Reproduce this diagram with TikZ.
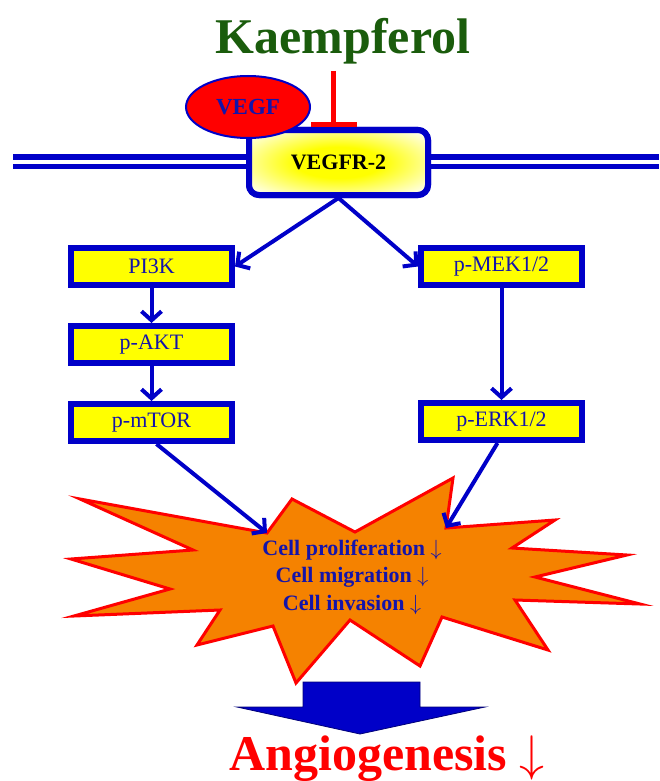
\RequirePackage{fix-cm}
\documentclass[tikz,border=0pt]{standalone}
\usepackage{amsmath}
\usepackage{fontspec}
\setmainfont{Liberation Serif}
\usetikzlibrary{%
	calc,%
	arrows.meta,%
	shapes.geometric,%
	positioning,%
}
\definecolor{cblue}{RGB}{0, 0, 200}
\definecolor{cbluedark}{RGB}{0, 0, 120}
\definecolor{ctext}{RGB}{20, 20, 170}
\definecolor{cred}{RGB}{255, 0, 0}
\definecolor{corange}{RGB}{245, 130, 0}
\definecolor{cgreen}{RGB}{26, 92, 12}
\definecolor{cyellow}{RGB}{255, 255, 0}
\pgfdeclareradialshading{receptorglow}{\pgfpoint{0bp}{0bp}}{%
	color(0bp)=(cyellow); color(12bp)=(cyellow); color(34bp)=(white); color(50bp)=(white)}
\newcommand{\decrease}{ $\downarrow$}
\tikzset{
	>={Straight Barb[length=9pt, width=20pt]},%
	nodes={align=center},%
	kinase/.style={%
			draw=cblue,%
			fill=cyellow,%
			rectangle,%
			line width=6pt,%
			minimum width=161pt,%
			minimum height=37pt,%
			text=ctext,%
			font={\fontsize{22}{26}\selectfont}},%
	receptor/.style={%
			draw=cblue,%
			rectangle,%
			rounded corners=10pt,%
			line width=6pt,%
			minimum width=179pt,%
			minimum height=65pt,%
			shading=receptorglow,%
			font={\fontsize{22}{26}\selectfont\bfseries}},%
	ligand/.style={%
			draw=cblue,%
			fill=cred,%
			ellipse,%
			line width=2pt,%
			minimum width=124pt,%
			minimum height=62pt,%
			text=ctext,%
			font={\fontsize{23}{26}\selectfont\bfseries}},%
	effect/.style={%
			text=ctext,%
			font={\fontsize{22}{27.5}\selectfont\bfseries}},%
	headline/.style={%
			anchor=base,%
			inner sep=0pt,%
			font={\fontsize{50}{60}\selectfont\bfseries}},%
	signal/.style={draw=cblue, line width=4pt, ->},%
	membrane/.style={draw=cblue, line width=5.5pt, double=white, double distance=4pt},%
	inhibit/.style={draw=cred, line width=5pt, -{Bar[width=46pt]}},%
	burst/.style={draw=cred, fill=corange, line width=3pt, line join=miter},%
}

\begin{document}
\begin{tikzpicture}[x=1pt, y=-1pt]%
	\useasboundingbox (0,0) rectangle (659,781);

	\node[headline, text=cgreen] (kaem) at (343,54) {Kaempferol};

	% membrane with receptor
	\coordinate (memL) at (13,161.5);
	\coordinate (memR) at (659,161.5);
	\node[receptor] (vegfr) at (338.5,162.5) {VEGFR-2};
	\draw[membrane] (memL) -- (memL -| vegfr.west);
	\draw[membrane] (memR -| vegfr.east) -- (memR);
	\node[receptor] at (vegfr) {VEGFR-2};
	\node[ligand] (vegf) at (248,107) {VEGF};
	\draw[inhibit] ($(kaem.south -| vegfr.north)+(-5,6)$) -- ($(vegfr.north)+(-5,0)$);

	% kinase cascades
	\node[kinase] (pi3k) at (151.5,266.5) {PI3K};
	\node[kinase] (pakt) [below=35pt of pi3k] {p-AKT};
	\node[kinase] (pmtor) [below=35pt of pakt] {p-mTOR};
	\node[kinase] (pmek) [right=183pt of pi3k] {p-MEK1/2};
	\node[kinase] (perk) [below=112pt of pmek] {p-ERK1/2};

	% cellular effects
	\coordinate (burstL) at (267,533);
	\coordinate (burstR) at (446,528);
	\draw[burst] (burstL) -- (292,499) -- (355,532) -- (453,478) -- (burstR)
		-- (555,520) -- (512,548) -- (627,555) -- (535,577) -- (640,604)
		-- (515,600) -- (548,650) -- (442,617) -- (420,666) -- (350,620)
		-- (296,683) -- (273,626) -- (197,645) -- (220,610) -- (74,616)
		-- (170,589) -- (71,559) -- (193,550) -- (80,499) -- cycle;
	\node[effect] (effects) at (352,577) {Cell proliferation\decrease\\Cell migration\decrease\\Cell invasion\decrease};

	\draw[signal] (vegfr.south) to (pi3k.east);
	\draw[signal] (vegfr.south) to (pmek.west);
	\draw[signal] (pi3k) to (pakt);
	\draw[signal] (pakt) to (pmtor);
	\draw[signal] (pmek) to (perk);
	\draw[signal] ([xshift=5pt]pmtor.south) to (burstL);
	\draw[signal] ([xshift=-4pt]perk.south) to (burstR);

	% outcome
	\draw[fill=cblue, draw=cbluedark, line width=0.8pt] (303,682) -- (420,682) -- (420,707) -- (485,707)
		-- (360,734) -- (237,707) -- (303,707) -- cycle;
	\node[headline, text=cred] (angio) at (387,770) {Angiogenesis\decrease};
\end{tikzpicture}
\end{document}
